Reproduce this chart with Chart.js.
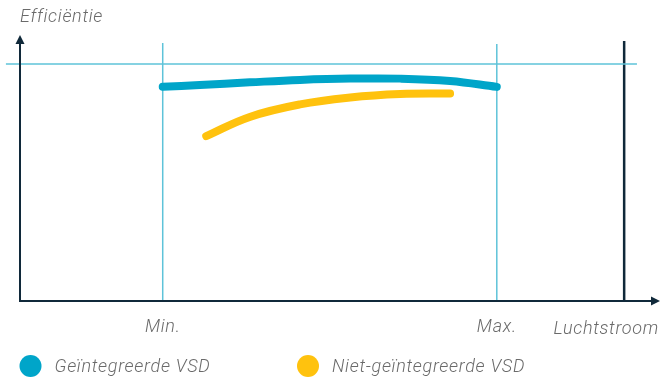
<!DOCTYPE html>
<html>
<head>
<meta charset="utf-8">
<script src="https://cdn.jsdelivr.net/npm/chart.js@4"></script>
<style>
  html, body { margin: 0; padding: 0; background: #fff; }
  #wrap { position: relative; width: 661px; height: 379px; }
</style>
</head>
<body>
<div id="wrap"><canvas id="c" width="661" height="379"></canvas></div>
<script>
// --- data --- //
const axisTitleY = "Efficiëntie";
const axisTitleX = "Luchtstroom";
const tickLabels = ["Min.", "Max."];
const tickValues = [22.3, 74.5];
const seriesNames = ["Geïntegreerde VSD", "Niet-geïntegreerde VSD"];

// Geïntegreerde VSD
const vsdX = [22.3, 28.1, 35.9, 43.75, 51.6, 59.4, 67.2, 74.5];
const vsdY = [80.5, 81.2, 82.2, 83.1, 83.6, 83.6, 82.7, 80.5];
// Niet-geïntegreerde VSD
const nonVsdX = [29.1, 35.9, 43.75, 51.6, 59.4, 67.2];
const nonVsdY = [62.0, 69.2, 73.9, 76.5, 77.8, 78.0];

const maxLevel = 89.1;     // horizontal reference
const limitX = 94.4;       // dark vertical limit

const BLUE = "#00a5c9";
const YELLOW = "#ffc20e";
const LIGHT = "#5ec3d9";
const NAVY = "#10293a";
const GREY = "#6a6a6a";
const FONT = "italic 300 18px Roboto, 'Liberation Sans', sans-serif";

const pts = (xs, ys) => xs.map((x, i) => ({x: x, y: ys[i]}));

function refLine(data, color, width) {
  return {data: data, borderColor: color, borderWidth: width, pointRadius: 0,
          tension: 0, clip: false, order: 5};
}

// axes with arrow heads, tick texts and the legend
const decor = {
  id: "decor",
  afterDatasetsDraw(chart) {
    const {ctx, chartArea: a, scales: {x, y}} = chart;
    ctx.save();
    ctx.strokeStyle = NAVY;
    ctx.fillStyle = NAVY;
    ctx.lineWidth = 2;
    const x0 = x.getPixelForValue(0), y0 = y.getPixelForValue(0);
    ctx.beginPath();
    ctx.moveTo(x0, y0 + 1); ctx.lineTo(x0, a.top + 6);
    ctx.moveTo(x0 - 1, y0); ctx.lineTo(a.right - 6, y0);
    ctx.stroke();
    ctx.beginPath();
    ctx.moveTo(x0, a.top); ctx.lineTo(x0 - 4.5, a.top + 9); ctx.lineTo(x0 + 4.5, a.top + 9);
    ctx.closePath(); ctx.fill();
    ctx.beginPath();
    ctx.moveTo(a.right, y0); ctx.lineTo(a.right - 9, y0 - 4.5); ctx.lineTo(a.right - 9, y0 + 4.5);
    ctx.closePath(); ctx.fill();

    ctx.font = FONT;
    ctx.letterSpacing = "0.7px";
    ctx.fillStyle = GREY;
    ctx.textBaseline = "alphabetic";
    ctx.textAlign = "left";
    ctx.fillText(axisTitleY, 20, 22);
    ctx.textAlign = "right";
    ctx.fillText(axisTitleX, 659, 334);
    ctx.textAlign = "center";
    tickLabels.forEach((t, i) => ctx.fillText(t, x.getPixelForValue(tickValues[i]), 332));

    // legend
    const legendX = [30.5, 308];
    ctx.textAlign = "left";
    seriesNames.forEach((name, i) => {
      ctx.fillStyle = chart.data.datasets[i].borderColor;
      ctx.beginPath();
      ctx.arc(legendX[i], 366, 11, 0, Math.PI * 2);
      ctx.fill();
      ctx.fillStyle = GREY;
      ctx.fillText(name, legendX[i] + 24, 372);
    });
    ctx.restore();
  }
};

new Chart(document.getElementById("c"), {
  type: "line",
  data: {
    datasets: [
      {label: seriesNames[0], data: pts(vsdX, vsdY), borderColor: BLUE, borderWidth: 8,
       borderCapStyle: "round", pointRadius: 0, tension: 0.4, order: 1},
      {label: seriesNames[1], data: pts(nonVsdX, nonVsdY), borderColor: YELLOW, borderWidth: 8,
       borderCapStyle: "round", pointRadius: 0, tension: 0.4, order: 2},
      refLine([{x: -2.2, y: maxLevel}, {x: 96.4, y: maxLevel}], LIGHT, 1.5),
      refLine([{x: tickValues[0], y: 0}, {x: tickValues[0], y: 97}], LIGHT, 1.5),
      refLine([{x: tickValues[1], y: 0}, {x: tickValues[1], y: 96.6}], LIGHT, 1.5),
      refLine([{x: limitX, y: 0}, {x: limitX, y: 97.7}], NAVY, 2.5)
    ]
  },
  options: {
    responsive: false,
    animation: false,
    layout: {padding: {left: 20, right: 1, top: 35, bottom: 78}},
    plugins: {legend: {display: false}, tooltip: {enabled: false}},
    scales: {
      x: {type: "linear", min: 0, max: 100, display: false},
      y: {type: "linear", min: 0, max: 100, display: false}
    }
  },
  plugins: [decor]
});
</script>
</body>
</html>
